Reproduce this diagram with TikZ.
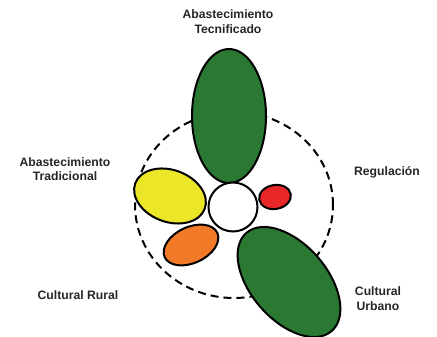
\documentclass[tikz,border=0pt]{standalone}
\usepackage{fontspec}
\setmainfont{Liberation Sans}
\usetikzlibrary{shapes.geometric}
\definecolor{verde}{RGB}{42,120,50}
\definecolor{amarillo}{RGB}{236,230,40}
\definecolor{naranja}{RGB}{240,122,40}
\definecolor{rojo}{RGB}{232,40,40}
\begin{document}
\begin{tikzpicture}[x=1pt,y=1pt,
	  petal/.style={ellipse,draw=black,line width=2pt,inner sep=0pt},
	  lbl/.style={font=\fontsize{12.2}{14.5}\selectfont\bfseries,align=center,text=black!85}]
	  \useasboundingbox (0,0) rectangle (437,337);
	  \draw[line width=2pt,dash pattern=on 8pt off 5pt] (234,132) ellipse [x radius=99,y radius=93];
	  \node[petal,fill=verde,minimum width=74,minimum height=134] (tec) at (229,221) {};
	  \node[petal,fill=verde,minimum width=130,minimum height=76,rotate=-49] (urb) at (289,55) {};
	  \node[petal,fill=amarillo,minimum width=74,minimum height=52,rotate=-20] (trad) at (170,141) {};
	  \node[petal,fill=naranja,minimum width=58,minimum height=36,rotate=25] (rur) at (191,92) {};
	  \node[petal,fill=rojo,minimum width=32,minimum height=24,rotate=10] (reg) at (275,140) {};
	  \node[circle,draw=black,line width=2pt,fill=white,minimum size=49,inner sep=0pt] (centro) at (233,130) {};
	  \node[lbl] (tecl) at (228,315.5) {Abastecimiento\\Tecnificado};
	  \node[lbl] (tradl) at (65,168) {Abastecimiento\\Tradicional};
	  \node[lbl] (regl) at (387,165) {Regulación};
	  \node[lbl] (rurl) at (78,42) {Cultural Rural};
	  \node[lbl] (urbl) at (378,38.5) {Cultural\\Urbano};
	\end{tikzpicture}
\end{document}
